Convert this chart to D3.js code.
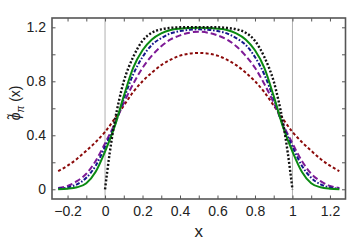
<!DOCTYPE html>
<html>
<head>
<meta charset="utf-8">
<script src="https://cdn.jsdelivr.net/npm/d3@7"></script>
<style>
  body { margin: 0; background: #fff; }
  #svg-container { width: 349px; height: 240px; }
  text { font-family: "Liberation Sans", Arial, sans-serif; fill: #222; }
</style>
</head>
<body>
<div id="svg-container"></div>
<script>
// data
const xGrid = [-0.25, -0.2, -0.15, -0.1, -0.05, 0, 0.05, 0.1, 0.15, 0.2, 0.25, 0.3, 0.35, 0.4, 0.45, 0.5,
  0.55, 0.6, 0.65, 0.7, 0.75, 0.8, 0.85, 0.9, 0.95, 1, 1.05, 1.1, 1.15, 1.2, 1.25];
const redVals = [0.135, 0.175, 0.225, 0.285, 0.35, 0.425, 0.52, 0.62, 0.72, 0.8, 0.865, 0.92, 0.96, 0.99, 1.005, 1.01,
  1.005, 0.99, 0.96, 0.92, 0.865, 0.8, 0.72, 0.62, 0.52, 0.425, 0.35, 0.285, 0.225, 0.175, 0.135];
const purpleVals = [0.01, 0.025, 0.06, 0.115, 0.21, 0.34, 0.48, 0.64, 0.78, 0.9, 0.99, 1.06, 1.11, 1.14, 1.16, 1.168,
  1.16, 1.14, 1.11, 1.06, 0.99, 0.9, 0.78, 0.64, 0.48, 0.34, 0.21, 0.115, 0.06, 0.025, 0.01];
const blueVals = [0.005, 0.013, 0.037, 0.085, 0.175, 0.315, 0.47, 0.67, 0.85, 0.98, 1.07, 1.12, 1.155, 1.172, 1.182, 1.185,
  1.182, 1.172, 1.155, 1.12, 1.07, 0.98, 0.85, 0.67, 0.47, 0.315, 0.175, 0.085, 0.037, 0.013, 0.005];
const greenVals = [0.0, 0.004, 0.015, 0.045, 0.13, 0.28, 0.46, 0.69, 0.9, 1.03, 1.11, 1.155, 1.18, 1.19, 1.195, 1.197,
  1.195, 1.19, 1.18, 1.155, 1.11, 1.03, 0.9, 0.69, 0.46, 0.28, 0.13, 0.045, 0.015, 0.004, 0.0];
// black dotted curve only lives on [0, 1]
const blackX = [0, 0.025, 0.05, 0.075, 0.1, 0.125, 0.15, 0.2, 0.25, 0.3, 0.35, 0.4, 0.45, 0.5,
  0.55, 0.6, 0.65, 0.7, 0.75, 0.8, 0.85, 0.875, 0.9, 0.925, 0.95, 0.975, 1];
const blackVals = [0, 0.27, 0.49, 0.66, 0.8, 0.9, 0.98, 1.1, 1.16, 1.185, 1.196, 1.2, 1.2, 1.2,
  1.2, 1.2, 1.196, 1.185, 1.16, 1.1, 0.98, 0.9, 0.8, 0.66, 0.49, 0.27, 0];

const xTicks = [-0.2, 0, 0.2, 0.4, 0.6, 0.8, 1, 1.2];
const xMinor = [-0.2, -0.1, 0, 0.1, 0.2, 0.3, 0.4, 0.5, 0.6, 0.7, 0.8, 0.9, 1, 1.1, 1.2];
const yTicks = [0, 0.4, 0.8, 1.2];
const yMinor = [0, 0.2, 0.4, 0.6, 0.8, 1, 1.2];

////////////////////////////  Init  ///////////////////////////////
const width = 349;
const height = 240;
const margin = { top: 18, right: 3.5, bottom: 41, left: 52 };

const svg = d3.select("#svg-container").append("svg")
  .attr("width", width)
  .attr("height", height);

const xScale = d3.scaleLinear().domain([-0.283, 1.283]).range([margin.left, width - margin.right]);
const yScale = d3.scaleLinear().domain([-0.072, 1.269]).range([height - margin.bottom, margin.top]);

// gray guide lines at x=0 and x=1
svg.selectAll(".guide")
  .data([0, 1])
  .join("line")
  .attr("class", "guide")
  .attr("x1", (d) => xScale(d))
  .attr("x2", (d) => xScale(d))
  .attr("y1", margin.top)
  .attr("y2", height - margin.bottom)
  .attr("stroke", "#b0b0b0")
  .attr("stroke-width", 1);

// curves
const line = d3.line()
  .x((d) => xScale(d[0]))
  .y((d) => yScale(d[1]))
  .curve(d3.curveMonotoneX);

const series = [
  { vals: redVals, color: "#8b0a0a", dash: "3,2.3", w: 2 },
  { vals: purpleVals, color: "#7e1a96", dash: "6,3", w: 2 },
  { vals: blueVals, color: "#16168c", dash: "4,1.8,1.6,1.8", w: 2 },
  { vals: greenVals, color: "#0b8a12", dash: null, w: 2 },
];

series.forEach((s) => {
  svg.append("path")
    .datum(xGrid.map((x, i) => [x, s.vals[i]]))
    .attr("d", line)
    .attr("fill", "none")
    .attr("stroke", s.color)
    .attr("stroke-width", s.w)
    .attr("stroke-dasharray", s.dash);
});

svg.append("path")
  .datum(blackX.map((x, i) => [x, blackVals[i]]))
  .attr("d", line)
  .attr("fill", "none")
  .attr("stroke", "#111")
  .attr("stroke-width", 2.4)
  .attr("stroke-dasharray", "2,1.9");

// axes (ticks pointing inward)
const tickLen = 3.5;
const xAxisB = d3.axisBottom(xScale).tickValues(xMinor).tickSizeInner(-tickLen).tickSizeOuter(0)
  .tickPadding(7).tickFormat((d) => (xTicks.some((t) => Math.abs(t - d) < 1e-9) ? d3.format("")(+d.toFixed(1)).replace("-", "\u2212") : ""));
const xAxisT = d3.axisTop(xScale).tickValues(xMinor).tickSizeInner(-tickLen).tickSizeOuter(0).tickFormat("");
const yAxisL = d3.axisLeft(yScale).tickValues(yMinor).tickSizeInner(-tickLen).tickSizeOuter(0)
  .tickPadding(6).tickFormat((d) => (yTicks.some((t) => Math.abs(t - d) < 1e-9) ? d3.format("")(+d.toFixed(1)) : ""));
const yAxisR = d3.axisRight(yScale).tickValues(yMinor).tickSizeInner(-tickLen).tickSizeOuter(0).tickFormat("");

svg.append("g").attr("class", "x-axis").attr("transform", `translate(0,${height - margin.bottom})`).call(xAxisB);
svg.append("g").attr("transform", `translate(0,${margin.top})`).call(xAxisT);
svg.append("g").attr("class", "y-axis").attr("transform", `translate(${margin.left},0)`).call(yAxisL);
svg.append("g").attr("transform", `translate(${width - margin.right},0)`).call(yAxisR);

svg.selectAll(".domain").remove();
svg.selectAll(".tick line").attr("stroke", "#555").attr("stroke-width", 1);
svg.selectAll(".tick text").style("font-size", "14px").attr("fill", "#222");

// frame
svg.append("rect")
  .attr("x", margin.left)
  .attr("y", margin.top)
  .attr("width", width - margin.left - margin.right)
  .attr("height", height - margin.top - margin.bottom)
  .attr("fill", "none")
  .attr("stroke", "#555")
  .attr("stroke-width", 1.6);

// axis labels
svg.append("text")
  .attr("x", xScale(0.5))
  .attr("y", 237)
  .attr("text-anchor", "middle")
  .style("font-size", "17px")
  .text("x");

const yLab = svg.append("text")
  .attr("transform", `translate(20,${yScale(0.64)}) rotate(-90)`)
  .attr("text-anchor", "middle")
  .style("font-size", "14px");
yLab.append("tspan").style("font-style", "italic").text("\u03d5\u0303");
yLab.append("tspan").attr("dy", 4).style("font-size", "10px").style("font-style", "italic").text("\u03c0");
yLab.append("tspan").attr("dy", -4).text(" (x)");
</script>
</body>
</html>
